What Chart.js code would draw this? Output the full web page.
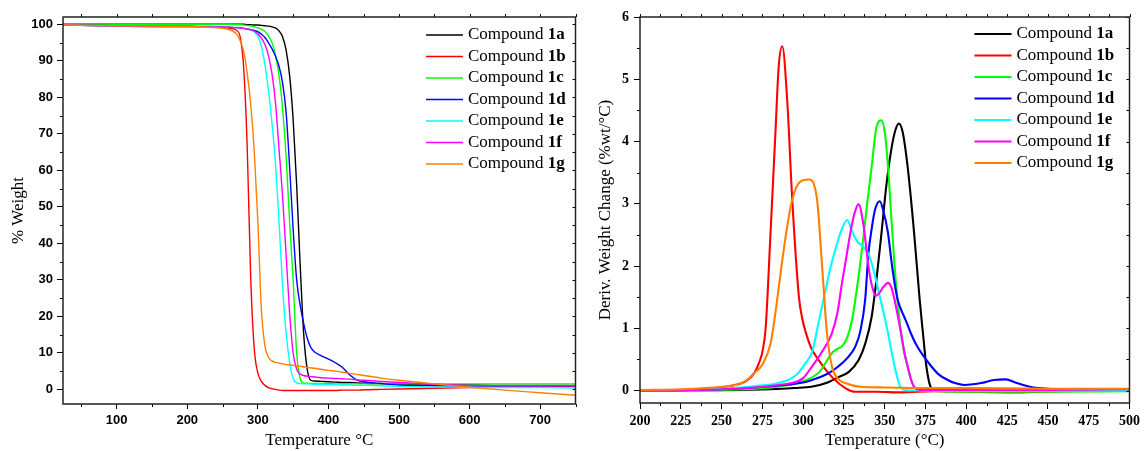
<!DOCTYPE html>
<html>
<head>
<meta charset="utf-8">
<script src="https://cdn.jsdelivr.net/npm/chart.js@4.4.1/dist/chart.umd.min.js"></script>
<style>
  html, body { margin: 0; padding: 0; background: #fff; }
  #wrap { position: relative; width: 1144px; height: 451px; }
  #tga { position: absolute; left: 0; top: 0; }
  #dtg { position: absolute; left: 590px; top: 0; }
</style>
</head>
<body>
<div id="wrap">
  <canvas id="tga" width="590" height="451"></canvas>
  <canvas id="dtg" width="554" height="451"></canvas>
</div>
<script>
// ---- series names / colours ----
const compounds = ['1a', '1b', '1c', '1d', '1e', '1f', '1g'];
const colors = ['#000000', '#ff0000', '#00ff00', '#0000ff', '#00ffff', '#ff00ff', '#ff8000'];

// ---- TGA (% weight vs temperature) ----
const tgaTemp = [24, 100, 150, 200, 230, 250, 260, 270, 275, 280, 285, 290, 295, 300, 305, 310, 315, 320, 325, 330,
                 335, 340, 345, 350, 355, 360, 365, 370, 375, 380, 390, 400, 410, 420, 430, 440, 450, 475, 500, 550,
                 600, 650, 700, 750];
const tga1a = [100, 100, 100, 100, 100, 100, 100, 100, 100, 100, 99.9, 99.9, 99.8, 99.8, 99.7, 99.6, 99.5, 99.3, 99.0, 98.2,
               96.6, 93.0, 86, 74, 56, 34, 15, 5.5, 2.5, 2.3, 2.2, 2.1, 2.0, 1.9, 1.9, 1.8, 1.7, 1.6, 1.5, 1.3,
               1.2, 1.1, 1.1, 1.1];
const tga1b = [99.8, 99.5, 99.4, 99.4, 99.3, 99.1, 98.9, 98.3, 96.5, 88, 66, 30, 11, 4.5, 2.2, 1.1, 0.5, 0.2, 0, -0.2,
               -0.3, -0.3, -0.3, -0.3, -0.3, -0.3, -0.3, -0.3, -0.3, -0.3, -0.3, -0.3, -0.3, -0.2, -0.2, -0.2, -0.1, 0, 0.1, 0.3,
               0.5, 0.6, 0.7, 0.8];
const tga1c = [100, 100, 100, 100, 100, 100, 100, 99.9, 99.9, 99.8, 99.7, 99.5, 99.3, 99.0, 98.6, 98.0, 96.8, 95.0, 91.5, 86,
               77, 64, 46, 30, 10, 3, 1.8, 1.7, 1.6, 1.6, 1.6, 1.6, 1.5, 1.5, 1.5, 1.5, 1.5, 1.5, 1.5, 1.5,
               1.5, 1.5, 1.5, 1.5];
const tga1d = [99.8, 99.6, 99.5, 99.5, 99.4, 99.3, 99.2, 99.1, 99.0, 98.9, 98.7, 98.5, 98.3, 98, 97.3, 96.4, 95.0, 93.3, 91.3, 88.5,
               84, 76, 61, 44, 30, 23, 18, 14, 11.5, 10.3, 9.2, 8.3, 7.3, 6.0, 4, 2.6, 2.1, 1.6, 1.2, 1.0,
               0.9, 0.9, 0.9, 1.0];
const tga1e = [99.8, 99.5, 99.4, 99.4, 99.3, 99.3, 99.2, 99.1, 99.0, 98.9, 98.7, 98.4, 98.0, 96.8, 94, 89, 82, 73, 62, 46,
               28.5, 15.5, 7.5, 3, 1.8, 1.6, 1.5, 1.5, 1.5, 1.4, 1.4, 1.3, 1.3, 1.2, 1.2, 1.1, 1.1, 1.0, 0.8, 0.7,
               0.6, 0.5, 0.5, 0.4];
const tga1f = [99.8, 99.5, 99.4, 99.4, 99.3, 99.3, 99.2, 99.1, 99.0, 98.9, 98.7, 98.5, 98.1, 97.4, 96.2, 94.5, 91.5, 86.5, 78.5, 66,
               53, 37, 21, 10, 5.5, 4.2, 3.8, 3.6, 3.5, 3.4, 3.2, 3.1, 3.0, 2.9, 2.8, 2.6, 2.5, 2.2, 1.9, 1.4,
               1.1, 1.0, 1.0, 1.0];
const tga1g = [99.8, 99.6, 99.5, 99.4, 99.2, 98.9, 98.5, 97.3, 95.5, 92.5, 86.5, 78, 65, 46, 22, 12, 8.8, 7.8, 7.4, 7.2,
               7.0, 6.8, 6.7, 6.6, 6.4, 6.3, 6.2, 6.0, 5.9, 5.8, 5.5, 5.2, 5.0, 4.7, 4.4, 4.1, 3.8, 3.1, 2.5, 1.5,
               0.6, -0.2, -0.9, -1.6];
const tgaXTicks = [100, 200, 300, 400, 500, 600, 700];
const tgaYTicks = [0, 10, 20, 30, 40, 50, 60, 70, 80, 90, 100];

// ---- DTG (derivative weight change) ----
const dtgT1a = [200, 250, 280, 295, 305, 315, 322, 328, 334, 338, 342, 345, 348, 351, 354, 356.5, 358.6, 361, 364, 368,
                371.4, 373.5, 375.5, 378.5, 382, 400, 425, 450, 500];
const dtgY1a = [0, 0.005, 0.02, 0.04, 0.06, 0.13, 0.22, 0.3, 0.49, 0.75, 1.19, 1.8, 2.53, 3.3, 3.87, 4.18, 4.29, 4.15, 3.6, 2.53,
                1.46, 0.9, 0.39, 0.04, 0, 0.01, 0.01, 0.01, 0.01];
const dtgT1b = [200, 225, 250, 260, 265, 270, 273, 275, 277, 280, 283, 285, 287.2, 290.2, 293.3, 297.4, 299.5, 301.4, 305, 309.5,
                317.6, 325.8, 332, 345, 360, 380, 400, 430, 460, 500];
const dtgY1b = [0, 0.01, 0.05, 0.1, 0.15, 0.28, 0.45, 0.62, 1.0, 2.53, 4.14, 5.2, 5.53, 4.67, 3.07, 1.5, 1.15, 0.95, 0.68, 0.49,
                0.22, 0.04, -0.02, -0.02, -0.03, -0.01, -0.02, -0.03, -0.01, 0.01];
const dtgT1c = [200, 250, 280, 300, 310, 317.6, 321, 323.8, 327, 330, 333, 336, 339, 342, 345, 348, 350, 352, 354, 356,
                358, 360, 362, 364, 368, 375, 400, 450, 500];
const dtgY1c = [0, 0.01, 0.05, 0.15, 0.3, 0.6, 0.67, 0.71, 0.85, 1.14, 1.65, 2.26, 2.95, 3.6, 4.24, 4.34, 4.15, 3.6, 2.8, 2.0,
                1.4, 0.92, 0.6, 0.39, 0.06, 0, -0.02, -0.02, -0.01];
const dtgT1d = [200, 250, 280, 300, 305.5, 315, 321.7, 327, 332, 335, 338, 340, 342, 344, 347, 349, 352, 354, 356, 358,
                360, 363, 366, 369, 372.5, 378.5, 383, 388.6, 393, 398.7, 404, 409, 417, 424, 431, 436, 441, 450, 459.6, 475, 500];
const dtgY1d = [0, 0.02, 0.07, 0.13, 0.17, 0.27, 0.39, 0.52, 0.71, 0.95, 1.46, 2.2, 2.6, 2.9, 3.04, 2.9, 2.53, 2.1, 1.73, 1.45,
                1.3, 1.12, 0.92, 0.75, 0.6, 0.39, 0.26, 0.17, 0.12, 0.09, 0.1, 0.12, 0.17, 0.18, 0.12, 0.08, 0.05, 0.03, 0.02, 0.02, 0.01];
const dtgT1e = [200, 250, 270, 285, 293, 297, 301.4, 305.5, 309.5, 313.6, 316.5, 319.7, 323.8, 327, 330, 333, 336, 340, 343, 346,
                349, 352, 356, 360, 365, 400, 450, 500];
const dtgY1e = [0, 0.03, 0.07, 0.12, 0.2, 0.28, 0.44, 0.62, 1.1, 1.6, 1.95, 2.26, 2.6, 2.74, 2.55, 2.4, 2.33, 2.2, 1.95, 1.62,
                1.28, 0.92, 0.39, 0.04, 0, 0, 0, 0];
const dtgT1f = [200, 250, 270, 285, 293, 300, 305.5, 311, 317.6, 321, 323.8, 326.5, 328.9, 331.5, 334, 337, 340, 342, 344.5, 346.5,
                349, 352, 354, 356, 358, 360, 362, 364, 366, 368, 372, 400, 450, 500];
const dtgY1f = [0, 0.02, 0.05, 0.09, 0.12, 0.2, 0.39, 0.6, 0.92, 1.25, 1.73, 2.15, 2.53, 2.85, 2.99, 2.65, 2.0, 1.7, 1.52, 1.56,
                1.66, 1.73, 1.66, 1.46, 1.2, 0.92, 0.62, 0.39, 0.18, 0.06, 0.01, 0.01, 0.01, 0.02];
const dtgT1g = [200, 225, 250, 260, 265, 270, 275, 280, 283, 287, 290, 293.3, 298.4, 303.5, 308.5, 311.6, 314.6, 317.6, 321, 325.8,
                335, 350, 375, 400, 450, 500];
const dtgY1g = [0.01, 0.02, 0.06, 0.1, 0.16, 0.28, 0.42, 0.75, 1.25, 2.05, 2.6, 3.07, 3.36, 3.39, 3.07, 2.0, 0.92, 0.39, 0.2, 0.12,
                0.06, 0.05, 0.04, 0.04, 0.03, 0.03];
const dtgXTicks = [200, 225, 250, 275, 300, 325, 350, 375, 400, 425, 450, 475, 500];
const dtgYTicks = [0, 1, 2, 3, 4, 5, 6];

const zip = (xs, ys) => xs.map((x, i) => ({ x, y: ys[i] }));

// box around the plot + minor ticks + inward/outward extra ticks
const frameTicks = {
    id: 'frameTicks',
    afterDraw(chart, args, o) {
        const { ctx, chartArea: a, scales: { x, y } } = chart;
        const px = v => Math.round(v) + 0.5;
        ctx.save();
        ctx.strokeStyle = '#000';
        ctx.lineWidth = 1;
        ctx.beginPath();
        const hx = o.xStep / 2;
        for (let v = Math.ceil(x.min / hx) * hx; v <= x.max + 1e-9; v += hx) {
            const p = px(x.getPixelForValue(v));
            const major = Math.abs(v / o.xStep - Math.round(v / o.xStep)) < 1e-6;
            if (!major) { ctx.moveTo(p, a.bottom); ctx.lineTo(p, a.bottom + 3); }
            ctx.moveTo(p, a.top); ctx.lineTo(p, a.top - 3);
        }
        const hy = o.yStep / 2;
        for (let v = Math.ceil(y.min / hy) * hy; v <= y.max + 1e-9; v += hy) {
            const p = px(y.getPixelForValue(v));
            const major = Math.abs(v / o.yStep - Math.round(v / o.yStep)) < 1e-6;
            if (!major) { ctx.moveTo(a.left, p); ctx.lineTo(a.left - 3, p); }
            ctx.moveTo(a.right, p); ctx.lineTo(a.right - 3, p);
        }
        ctx.stroke();
        ctx.lineWidth = 1.5;
        ctx.strokeStyle = '#222';
        ctx.strokeRect(a.left, a.top, a.right - a.left, a.bottom - a.top);
        ctx.restore();
    }
};

// legend: "Compound " + bold id
const compoundLegend = {
    id: 'compoundLegend',
    afterDraw(chart, args, o) {
        const { ctx, chartArea: a } = chart;
        ctx.save();
        ctx.textBaseline = 'middle';
        chart.data.datasets.forEach((ds, i) => {
            const yy = a.top + o.top + i * o.rowGap;
            ctx.strokeStyle = ds.borderColor;
            ctx.lineWidth = o.lineWidth;
            ctx.beginPath();
            ctx.moveTo(a.right - o.lineStart, yy);
            ctx.lineTo(a.right - o.lineEnd, yy);
            ctx.stroke();
            const tx = a.right - o.textStart;
            ctx.fillStyle = '#000';
            ctx.font = '17px "Liberation Serif"';
            ctx.fillText('Compound ', tx, yy);
            const w = ctx.measureText('Compound ').width;
            ctx.font = 'bold 17px "Liberation Serif"';
            ctx.fillText(compounds[i], tx + w, yy);
        });
        ctx.restore();
    }
};

const serif17 = { family: 'Liberation Serif', size: 17 };

function lineSets(list, width) {
    return list.map((data, i) => ({
        label: 'Compound ' + compounds[i],
        data,
        borderColor: colors[i],
        borderWidth: width,
        pointRadius: 0,
        cubicInterpolationMode: 'monotone',
        order: -i
    }));
}

new Chart(document.getElementById('tga'), {
    type: 'line',
    data: {
        datasets: lineSets([tga1a, tga1b, tga1c, tga1d, tga1e, tga1f, tga1g].map(s => zip(tgaTemp, s)), 1.4)
    },
    options: {
        responsive: false,
        animation: false,
        layout: { padding: { left: 0, right: 14.5, top: 17, bottom: 0 } },
        plugins: {
            legend: { display: false },
            tooltip: { enabled: false },
            frameTicks: { xStep: 100, yStep: 10 },
            compoundLegend: { top: 18, rowGap: 21.5, lineStart: 149.5, lineEnd: 112.5, textStart: 107.5, lineWidth: 1.5 }
        },
        scales: {
            x: {
                type: 'linear', min: 24, max: 750,
                afterBuildTicks: s => { s.ticks = tgaXTicks.map(v => ({ value: v })); },
                afterFit: s => { s.height = 47; },
                ticks: { autoSkip: false, maxRotation: 0, color: '#000', padding: 4,
                         font: { family: 'Liberation Sans', size: 13, weight: 'bold' } },
                grid: { drawOnChartArea: false, tickLength: 5, tickColor: '#000', tickWidth: 1 },
                border: { display: false },
                title: { display: true, text: 'Temperature °C', color: '#000', font: serif17, padding: { top: 0, bottom: 0 } }
            },
            y: {
                type: 'linear', min: -4, max: 102,
                afterBuildTicks: s => { s.ticks = tgaYTicks.map(v => ({ value: v })); },
                afterFit: s => { s.width = 63; },
                ticks: { autoSkip: false, color: '#000', padding: 4,
                         font: { family: 'Liberation Sans', size: 13, weight: 'bold' } },
                grid: { drawOnChartArea: false, tickLength: 6, tickColor: '#000', tickWidth: 1 },
                border: { display: false },
                title: { display: true, text: '% Weight', color: '#000', font: serif17, padding: { top: 8, bottom: 0 } }
            }
        }
    },
    plugins: [frameTicks, compoundLegend]
});

new Chart(document.getElementById('dtg'), {
    type: 'line',
    data: {
        datasets: lineSets([
            zip(dtgT1a, dtgY1a), zip(dtgT1b, dtgY1b), zip(dtgT1c, dtgY1c), zip(dtgT1d, dtgY1d),
            zip(dtgT1e, dtgY1e), zip(dtgT1f, dtgY1f), zip(dtgT1g, dtgY1g)
        ], 2.1)
    },
    options: {
        responsive: false,
        animation: false,
        layout: { padding: { left: 0, right: 11, top: 17, bottom: 0 } },
        plugins: {
            legend: { display: false },
            tooltip: { enabled: false },
            frameTicks: { xStep: 25, yStep: 1 },
            compoundLegend: { top: 17, rowGap: 21.5, lineStart: 155, lineEnd: 118, textStart: 113, lineWidth: 2 }
        },
        scales: {
            x: {
                type: 'linear', min: 200, max: 500,
                afterBuildTicks: s => { s.ticks = dtgXTicks.map(v => ({ value: v })); },
                afterFit: s => { s.height = 48; },
                ticks: { autoSkip: false, maxRotation: 0, color: '#000', padding: 4,
                         font: { family: 'Liberation Serif', size: 14, weight: 'bold' } },
                grid: { drawOnChartArea: false, tickLength: 6, tickColor: '#000', tickWidth: 1 },
                border: { display: false },
                title: { display: true, text: 'Temperature (°C)', color: '#000', font: serif17, padding: { top: 0, bottom: 0 } }
            },
            y: {
                type: 'linear', min: -0.2, max: 6,
                afterBuildTicks: s => { s.ticks = dtgYTicks.map(v => ({ value: v })); },
                afterFit: s => { s.width = 50; },
                ticks: { autoSkip: false, color: '#000', padding: 5,
                         font: { family: 'Liberation Serif', size: 14, weight: 'bold' } },
                grid: { drawOnChartArea: false, tickLength: 6, tickColor: '#000', tickWidth: 1 },
                border: { display: false },
                title: { display: true, text: 'Deriv. Weight Change (%wt/°C)', color: '#000', font: serif17, padding: { top: 5, bottom: 0 } }
            }
        }
    },
    plugins: [frameTicks, compoundLegend]
});
</script>
</body>
</html>
